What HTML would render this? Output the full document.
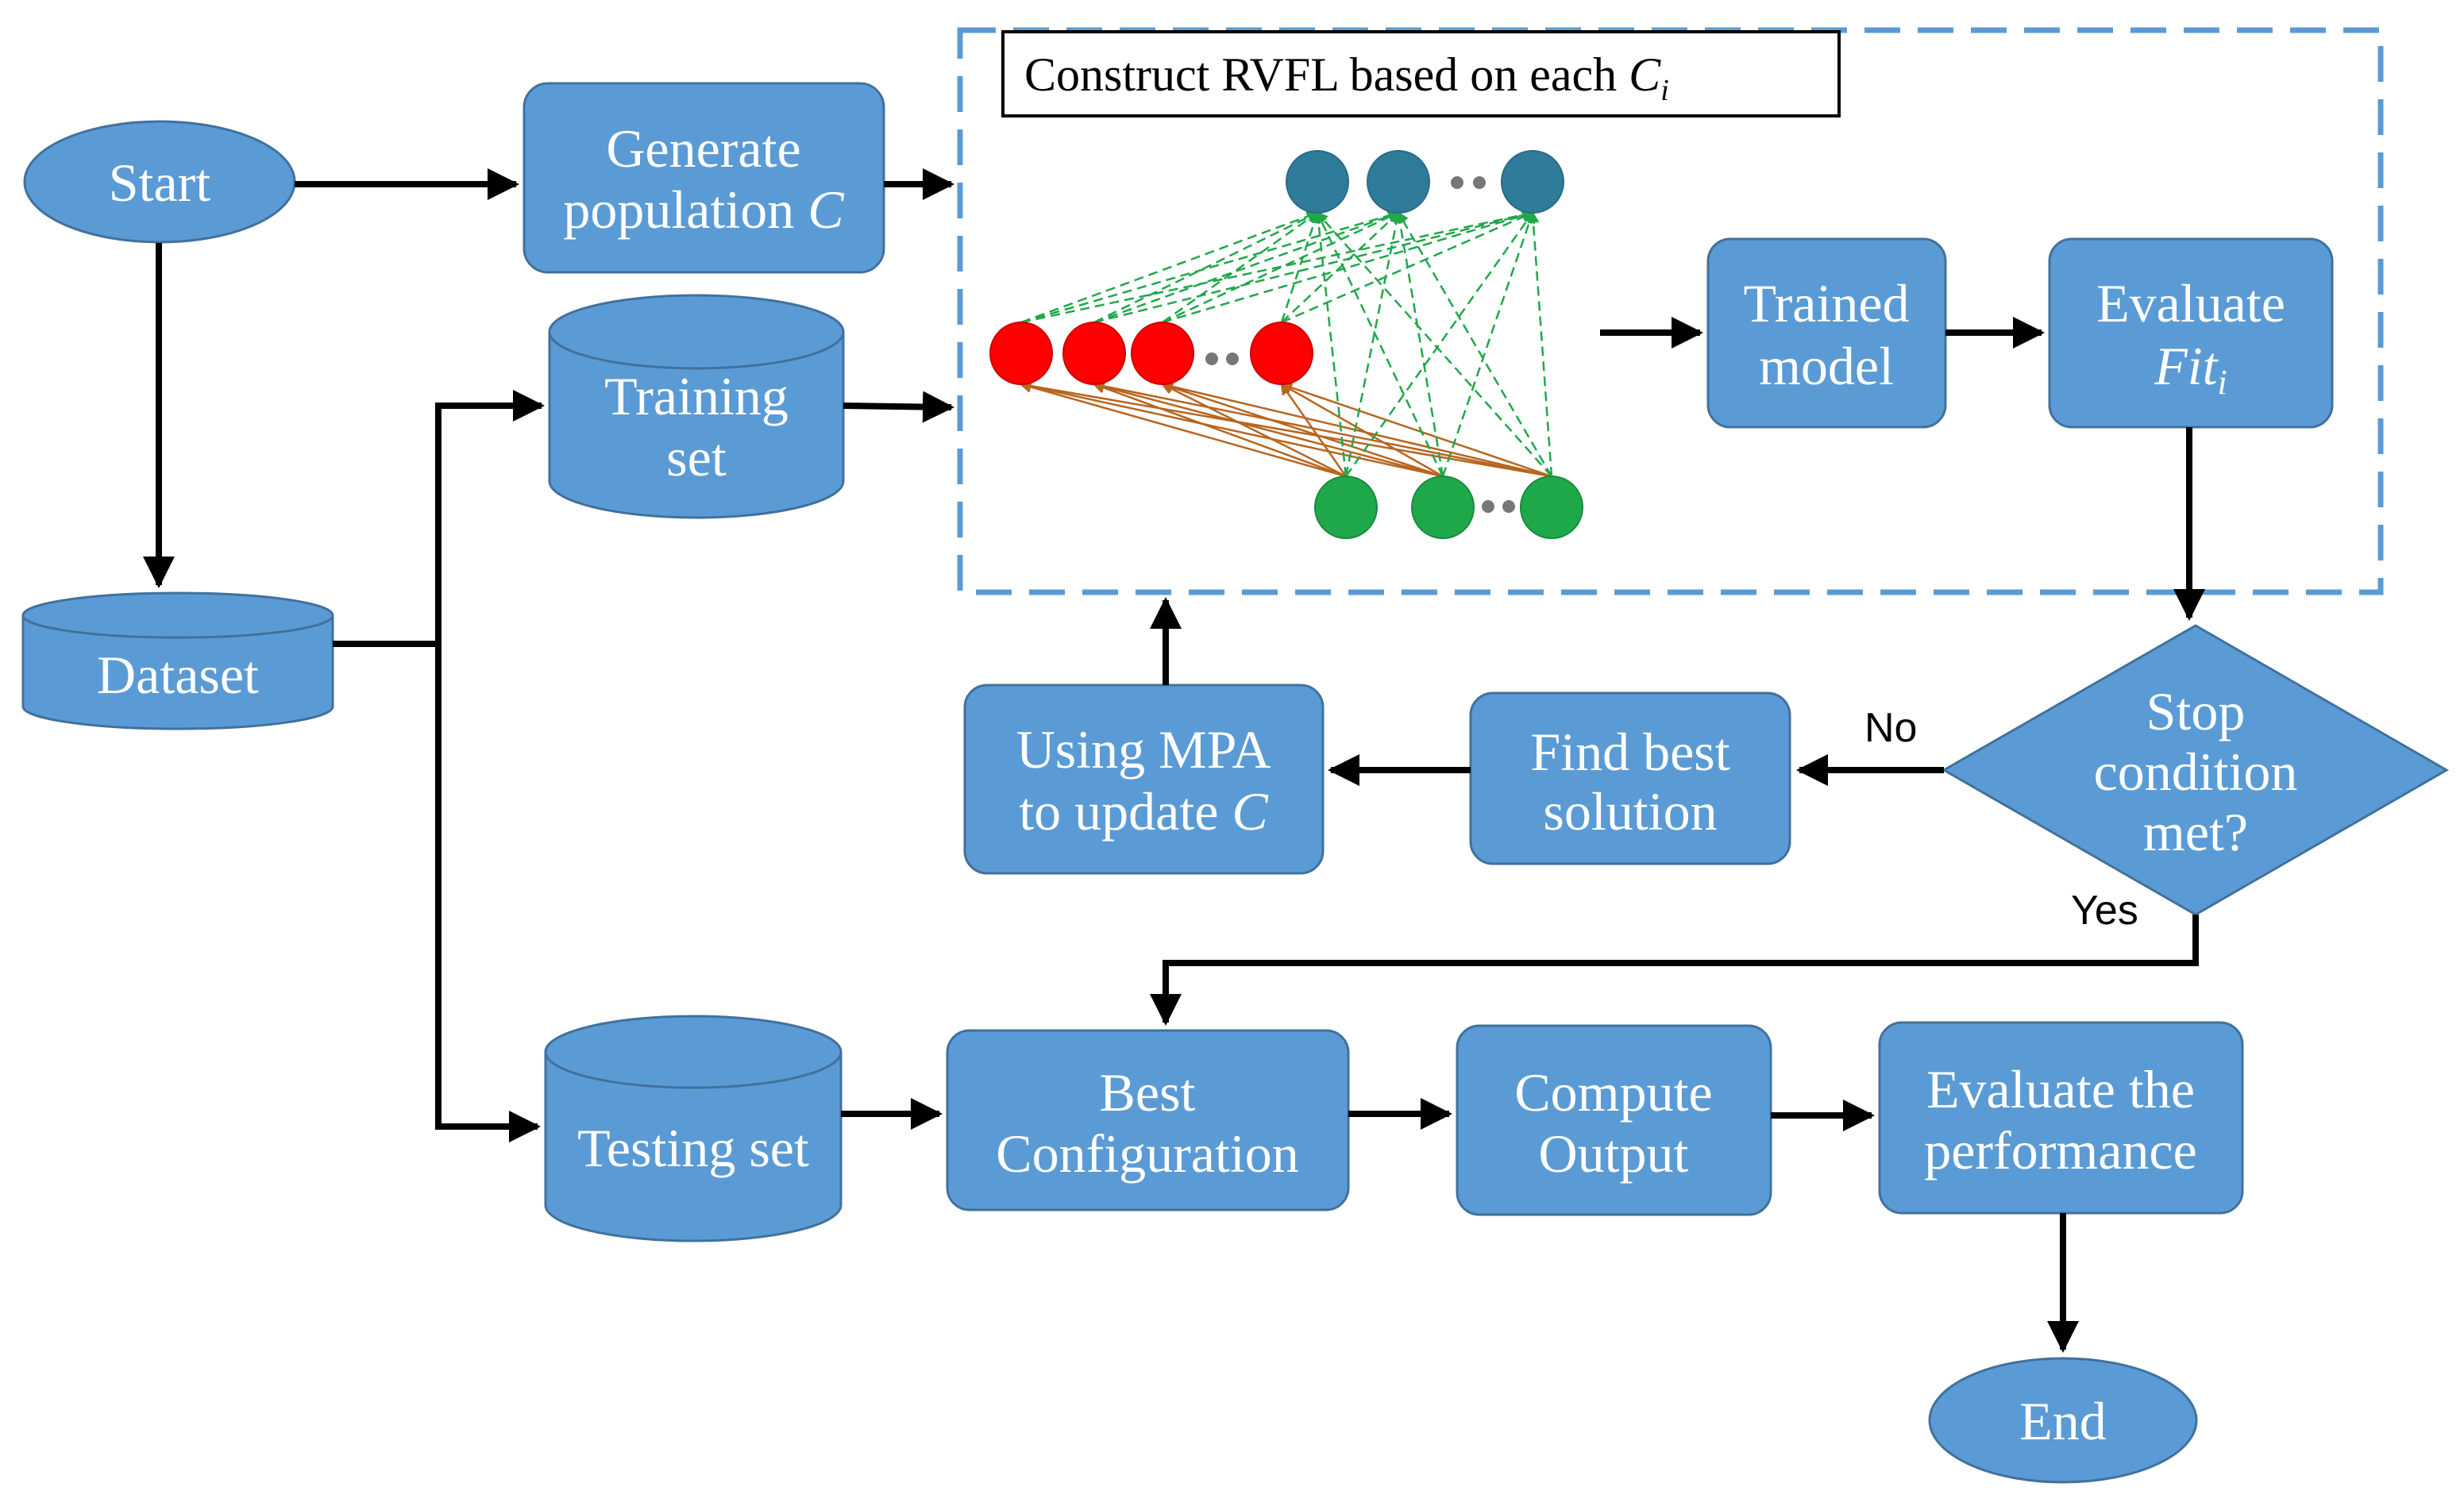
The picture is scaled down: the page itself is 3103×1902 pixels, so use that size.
<!DOCTYPE html>
<html><head><meta charset="utf-8"><style>
html,body{margin:0;padding:0;background:#fff;}
svg{display:block;}
.t{font-family:"Liberation Serif",serif;font-size:68px;fill:#fff;text-anchor:middle;}
.s{font-family:"Liberation Sans",sans-serif;font-size:52px;fill:#000;}
</style></head><body>
<svg width="3103" height="1902" viewBox="0 0 3103 1902" xmlns="http://www.w3.org/2000/svg">
<defs>
<marker id="a" markerWidth="5" markerHeight="5" refX="4.5" refY="2.5" orient="auto" markerUnits="strokeWidth"><path d="M0,0 L5,2.5 L0,5 z" fill="#000"/></marker>
<marker id="g" markerWidth="6" markerHeight="6" refX="5" refY="3" orient="auto" markerUnits="strokeWidth"><path d="M0,0 L6,3 L0,6 z" fill="#1fa84a"/></marker>
<marker id="b" markerWidth="6" markerHeight="6" refX="5" refY="3" orient="auto" markerUnits="strokeWidth"><path d="M0,0 L6,3 L0,6 z" fill="#b8651f"/></marker>
</defs>
<g fill="#5b9bd5" stroke="#41719c" stroke-width="3">
<ellipse cx="201" cy="229" rx="170" ry="76"/>
<rect x="660" y="105" width="453" height="238" rx="30"/>
<path d="M692,418 v188 a185,46 0 0 0 370,0 v-188"/><ellipse cx="877" cy="418" rx="185" ry="46"/>
<path d="M29,775 v115 a195,28 0 0 0 390,0 v-115"/><ellipse cx="224" cy="775" rx="195" ry="28"/>
<rect x="2151" y="301" width="299" height="237" rx="28"/>
<rect x="2581" y="301" width="356" height="237" rx="28"/>
<path d="M2765,788 L3081,970 L2765,1152 L2448,970 z"/>
<rect x="1852" y="873" width="402" height="215" rx="28"/>
<rect x="1215" y="863" width="451" height="237" rx="28"/>
<path d="M687,1325 v193 a186,45 0 0 0 372,0 v-193"/><ellipse cx="873" cy="1325" rx="186" ry="45"/>
<rect x="1193" y="1298" width="505" height="226" rx="28"/>
<rect x="1835" y="1292" width="395" height="238" rx="28"/>
<rect x="2367" y="1288" width="457" height="240" rx="28"/>
<ellipse cx="2598" cy="1789" rx="168" ry="78"/>
</g>
<rect x="1209" y="38" width="1789" height="708" fill="none" stroke="#5b9bd5" stroke-width="7" stroke-dasharray="45,22"/>
<rect x="1263" y="40" width="1053" height="106" fill="#fff" stroke="#000" stroke-width="4"/>
<text x="1290" y="114" style="font-family:'Liberation Serif',serif;font-size:60px;">Construct RVFL based on each <tspan font-style="italic">C</tspan><tspan font-style="italic" font-size="38" dy="12">i</tspan></text>
<g fill="none" stroke="#000" stroke-width="8" marker-end="url(#a)">
<path d="M371,232 H650"/>
<path d="M200,306 V737"/>
<path d="M1113,232 H1198"/>
<path d="M419,811 H552 V511 H682"/>
<path d="M552,811 V1419 H677"/>
<path d="M1062,511 L1198,513"/>
<path d="M2015,419 H2141"/>
<path d="M2450,419 H2571"/>
<path d="M2757,538 V778"/>
<path d="M2448,970 H2266"/>
<path d="M1852,970 H1676"/>
<path d="M1468,863 V756"/>
<path d="M2765,1152 V1213 H1468 V1288"/>
<path d="M1059,1403 H1183"/>
<path d="M1698,1403 H1825"/>
<path d="M2230,1405 H2357"/>
<path d="M2598,1528 V1700"/>
</g>
<g stroke="#b8651f" stroke-width="2.5" marker-end="url(#b)">
<line x1="1695" y1="600" x2="1286" y2="484"/><line x1="1695" y1="600" x2="1378" y2="484"/><line x1="1695" y1="600" x2="1464" y2="484"/><line x1="1695" y1="600" x2="1614" y2="484"/>
<line x1="1817" y1="600" x2="1286" y2="484"/><line x1="1817" y1="600" x2="1378" y2="484"/><line x1="1817" y1="600" x2="1464" y2="484"/><line x1="1817" y1="600" x2="1614" y2="484"/>
<line x1="1954" y1="600" x2="1286" y2="484"/><line x1="1954" y1="600" x2="1378" y2="484"/><line x1="1954" y1="600" x2="1464" y2="484"/><line x1="1954" y1="600" x2="1614" y2="484"/>
</g>
<g stroke="#1fa84a" stroke-width="2.5" stroke-dasharray="12,7" marker-end="url(#g)">
<line x1="1286" y1="406" x2="1659" y2="268"/><line x1="1286" y1="406" x2="1761" y2="268"/><line x1="1286" y1="406" x2="1930" y2="268"/>
<line x1="1378" y1="406" x2="1659" y2="268"/><line x1="1378" y1="406" x2="1761" y2="268"/><line x1="1378" y1="406" x2="1930" y2="268"/>
<line x1="1464" y1="406" x2="1659" y2="268"/><line x1="1464" y1="406" x2="1761" y2="268"/><line x1="1464" y1="406" x2="1930" y2="268"/>
<line x1="1614" y1="406" x2="1659" y2="268"/><line x1="1614" y1="406" x2="1761" y2="268"/><line x1="1614" y1="406" x2="1930" y2="268"/>
<line x1="1695" y1="600" x2="1659" y2="268"/><line x1="1695" y1="600" x2="1761" y2="268"/><line x1="1695" y1="600" x2="1930" y2="268"/>
<line x1="1817" y1="600" x2="1659" y2="268"/><line x1="1817" y1="600" x2="1761" y2="268"/><line x1="1817" y1="600" x2="1930" y2="268"/>
<line x1="1954" y1="600" x2="1659" y2="268"/><line x1="1954" y1="600" x2="1761" y2="268"/><line x1="1954" y1="600" x2="1930" y2="268"/>
</g>
<g stroke-width="2">
<circle cx="1659" cy="229" r="39" fill="#2f7b9a" stroke="#2a6a85"/><circle cx="1761" cy="229" r="39" fill="#2f7b9a" stroke="#2a6a85"/><circle cx="1930" cy="229" r="39" fill="#2f7b9a" stroke="#2a6a85"/>
<circle cx="1286" cy="445" r="39" fill="#f00" stroke="#c00"/><circle cx="1378" cy="445" r="39" fill="#f00" stroke="#c00"/><circle cx="1464" cy="445" r="39" fill="#f00" stroke="#c00"/><circle cx="1614" cy="445" r="39" fill="#f00" stroke="#c00"/>
<circle cx="1695" cy="639" r="39" fill="#1fa84a" stroke="#188a3c"/><circle cx="1817" cy="639" r="39" fill="#1fa84a" stroke="#188a3c"/><circle cx="1954" cy="639" r="39" fill="#1fa84a" stroke="#188a3c"/>
</g>
<g fill="#777">
<circle cx="1835" cy="230" r="8"/><circle cx="1863" cy="230" r="8"/>
<circle cx="1526" cy="452" r="8"/><circle cx="1552" cy="452" r="8"/>
<circle cx="1874" cy="638" r="8"/><circle cx="1900" cy="638" r="8"/>
</g>
<text class="t" x="201" y="253">Start</text>
<text class="t" x="886" y="210">Generate</text>
<text class="t" x="886" y="287">population <tspan font-style="italic">C</tspan></text>
<text class="t" x="877" y="522">Training</text>
<text class="t" x="877" y="599">set</text>
<text class="t" x="224" y="873">Dataset</text>
<text class="t" x="2300" y="405">Trained</text>
<text class="t" x="2300" y="484">model</text>
<text class="t" x="2759" y="405">Evaluate</text>
<text class="t" x="2759" y="484" font-style="italic">Fit<tspan font-size="44" dy="12">i</tspan></text>
<text class="t" x="2765" y="919">Stop</text>
<text class="t" x="2765" y="995">condition</text>
<text class="t" x="2765" y="1071">met?</text>
<text class="t" x="2053" y="970">Find  best</text>
<text class="t" x="2053" y="1045">solution</text>
<text class="t" x="1440" y="967">Using MPA</text>
<text class="t" x="1440" y="1045">to update <tspan font-style="italic">C</tspan></text>
<text class="t" x="873" y="1469">Testing set</text>
<text class="t" x="1445" y="1399">Best</text>
<text class="t" x="1445" y="1476">Configuration</text>
<text class="t" x="2032" y="1399">Compute</text>
<text class="t" x="2032" y="1476">Output</text>
<text class="t" x="2595" y="1395">Evaluate the</text>
<text class="t" x="2595" y="1472">performance</text>
<text class="t" x="2598" y="1813">End</text>
<text class="s" x="2348" y="934">No</text>
<text class="s" x="2608" y="1164">Yes</text>
</svg>
</body></html>
